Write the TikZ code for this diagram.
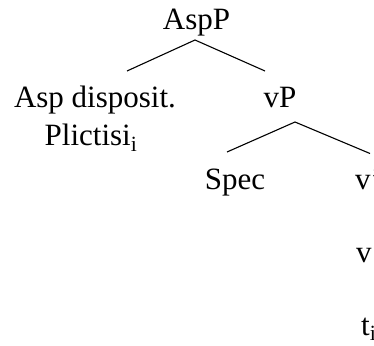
\documentclass[tikz,border=0pt]{standalone}
\usepackage{fontspec}
\setmainfont{Liberation Serif}
\begin{document}
\begin{tikzpicture}[x=1pt,y=-1pt,
  lbl/.style={inner sep=0pt,anchor=base,font=\fontsize{31}{36}\selectfont},
  branch/.style={line width=1.1pt}]
\clip (0,0) rectangle (374,345);
\useasboundingbox (0,0) rectangle (374,345);
% labels
\node[lbl] (aspp) at (196.5,29.5) {AspP};
\node[lbl] (asp) at (95,107) {Asp disposit.};
\node[lbl] (plic) at (91,145.5) {Plictisi\textsubscript{i}};
\node[lbl] (vp) at (280,107) {vP};
\node[lbl] (spec) at (235,189) {Spec};
\node[lbl,anchor=base west] (vbar) at (355,189) {v'};
\node[lbl,anchor=base west] (v) at (356,262) {v};
\node[lbl,anchor=base west] (t) at (361,335) {t\textsubscript{i}};
% branch end points
\coordinate (aspp-b) at (195,40);
\coordinate (asp-t) at (127,71);
\coordinate (vp-t) at (265,71);
\coordinate (vp-b) at (295,122);
\coordinate (spec-t) at (227,152);
\coordinate (vbar-t) at (370,153.5);
% branches
\draw[branch] (aspp-b) -- (asp-t);
\draw[branch] (aspp-b) -- (vp-t);
\draw[branch] (vp-b) -- (spec-t);
\draw[branch] (vp-b) -- (vbar-t);
\end{tikzpicture}
\end{document}
